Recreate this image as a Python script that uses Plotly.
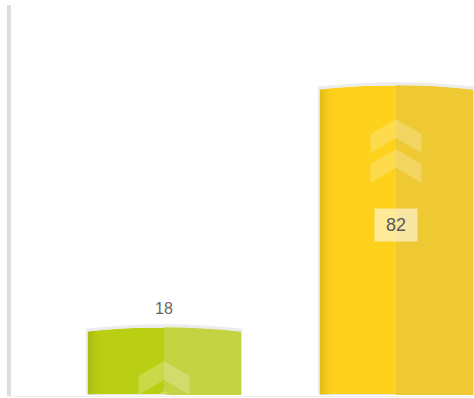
import plotly.graph_objects as go

categories = [0, 1]
values = [18, 82]
labels = ["18", "82"]
left_colors = ["#bacf14", "#fdd11c"]
right_colors = ["#c3d342", "#eec934"]

W, H = 474, 398
BW = 0.664
fig = go.Figure()

# main bars
fig.add_trace(go.Bar(
    x=categories, y=values, width=BW,
    marker=dict(color=left_colors, line=dict(color="#e6e6e6", width=2)),
    hoverinfo="skip", showlegend=False,
))
# right-half shading
fig.add_trace(go.Bar(
    x=categories, y=values, width=0.33, offset=0,
    marker=dict(color=right_colors, line=dict(width=0)),
    hoverinfo="skip", showlegend=False,
))
# soft darker left edge (gradient made of stacked narrow strips)
for w, a in [(0.05, 0.03), (0.035, 0.035), (0.022, 0.04), (0.012, 0.05)]:
    fig.add_trace(go.Bar(
        x=categories, y=values, width=w, offset=-0.328,
        marker=dict(color=f"rgba(110,100,0,{a})", line=dict(width=0)),
        hoverinfo="skip", showlegend=False,
    ))

shapes = []
# chevron decorations derived from bar values
hw, rise, thick, gap = 0.11, 4.0, 5.0, 7.9
sag = 1.2
for c, v in zip(categories, values):
    for k in range(2):
        apex = v - 9 - k * gap
        path = (f"M {c-hw},{apex-rise} L {c},{apex} L {c+hw},{apex-rise} "
                f"L {c+hw},{apex-rise-thick} L {c},{apex-thick} L {c-hw},{apex-rise-thick} Z")
        shapes.append(dict(type="path", path=path, xref="x", yref="y",
                           fillcolor="rgba(255,255,255,0.22)", line=dict(width=0)))
    l, r = c - BW / 2 - 0.006, c + BW / 2 + 0.006
    # cut the corners to form an arched top
    shapes.append(dict(type="path", xref="x", yref="y",
                       path=f"M {l},{v+1.5} L {l},{v-sag} Q {c},{v+sag} {r},{v-sag} L {r},{v+1.5} Z",
                       fillcolor="white", line=dict(width=0)))
    # light shadow rim on top
    shapes.append(dict(type="path", xref="x", yref="y",
                       path=f"M {l},{v-sag+0.35} Q {c},{v+sag+0.35} {r},{v-sag+0.35}",
                       line=dict(color="#ececec", width=3)))

# left axis line and baseline
shapes.append(dict(type="line", xref="paper", yref="paper", x0=9/W, x1=9/W,
                   y0=-0.003, y1=0.987, line=dict(color="#dddddd", width=4)))
shapes.append(dict(type="line", xref="paper", yref="paper", x0=10/W, x1=1,
                   y0=-0.004, y1=-0.004, line=dict(color="#eeeeee", width=1)))

annotations = []
for c, v, t in zip(categories, values, labels):
    if v > 50:
        annotations.append(dict(x=c, y=v * 0.55, text=t, showarrow=False,
                                font=dict(family="Liberation Sans", size=18, color="#5a5a5a"),
                                bgcolor="rgba(255,255,255,0.55)", width=40, height=30,
                                xanchor="center", yanchor="middle"))
    else:
        annotations.append(dict(x=c, y=v, text=t, showarrow=False, yanchor="bottom",
                                yshift=8,
                                font=dict(family="Liberation Sans", size=16, color="#666666")))

fig.update_layout(
    width=W, height=H,
    margin=dict(l=0, r=0, t=0, b=3),
    paper_bgcolor="white", plot_bgcolor="white",
    barmode="overlay", bargap=0,
    xaxis=dict(range=[-164/232, (474-164)/232], visible=False, fixedrange=True),
    yaxis=dict(range=[0, 395/3.78], visible=False, fixedrange=True),
    shapes=shapes, annotations=annotations,
    font=dict(family="Liberation Sans"),
)

fig.write_html("out.html", config={"displayModeBar": False})
